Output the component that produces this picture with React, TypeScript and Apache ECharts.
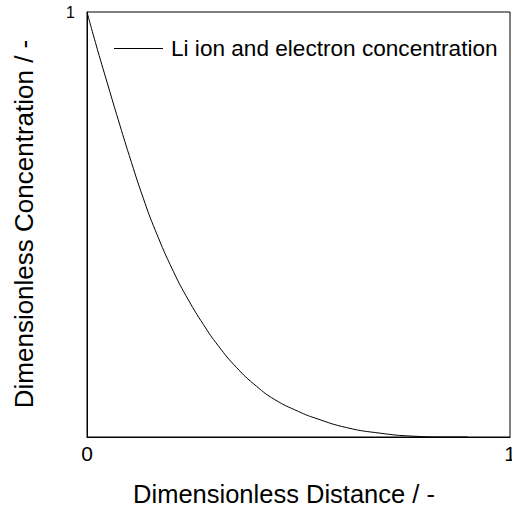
import React, { useEffect, useRef } from "react";
import * as echarts from "echarts";

const distance = [0, 0.02, 0.05, 0.074, 0.1, 0.133, 0.162, 0.204, 0.24, 0.275, 0.31, 0.354, 0.4, 0.444, 0.5, 0.541, 0.614, 0.693, 0.77, 0.85, 0.9];
const concentration = [1, 0.928, 0.826, 0.746, 0.662, 0.562, 0.485, 0.39, 0.322, 0.265, 0.215, 0.163, 0.12, 0.088, 0.06, 0.044, 0.022, 0.009, 0.002, 0, 0];
const seriesName = "Li ion and electron concentration";
const xTitle = "Dimensionless Distance / -";
const yTitle = "Dimensionless Concentration / -";

export default function App() {
  const ref = useRef<HTMLDivElement>(null);
  useEffect(() => {
    if (!ref.current) return;
    const chart = echarts.init(ref.current, null, { renderer: "svg" });
    const font = "'Liberation Sans', Arial, Helvetica, sans-serif";
    chart.setOption({
      animation: false,
      grid: {
        left: 87,
        top: 12,
        right: 2,
        bottom: 71,
        containLabel: false,
        outerBoundsMode: "none",
        show: true,
        borderColor: "#000",
        borderWidth: 1,
        backgroundColor: "transparent",
      },
      legend: {
        show: true,
        left: 114,
        top: 37,
        padding: 0,
        icon: "rect",
        itemWidth: 49,
        itemHeight: 1,
        itemGap: 0,
        itemStyle: { color: "#000", borderWidth: 0 },
        textStyle: { fontSize: 22.6, color: "#000", fontFamily: font, padding: [0, 0, 0, 3] },
        data: [seriesName],
      },
      xAxis: {
        type: "value",
        min: 0,
        max: 1,
        interval: 1,
        axisLine: { show: true, lineStyle: { color: "#000", width: 1 } },
        axisTick: { show: false },
        splitLine: { show: false },
        axisLabel: { color: "#000", fontSize: 21, fontFamily: font, margin: 6 },
      },
      yAxis: {
        type: "value",
        min: 0,
        max: 1,
        interval: 1,
        axisLine: { show: true, lineStyle: { color: "#000", width: 1 } },
        axisTick: { show: false },
        splitLine: { show: false },
        axisLabel: {
          color: "#000",
          fontSize: 16,
          fontFamily: font,
          margin: 12,
          formatter: (v: number) => (v === 1 ? "1" : ""),
        },
      },
      graphic: [
        {
          type: "text",
          x: 284,
          y: 494,
          style: {
            text: xTitle,
            fontSize: 25.5,
            fontFamily: font,
            fill: "#000",
            align: "center",
            verticalAlign: "middle",
          },
        },
        {
          type: "text",
          x: 24,
          y: 224,
          rotation: Math.PI / 2,
          style: {
            text: yTitle,
            fontSize: 26,
            fontFamily: font,
            fill: "#000",
            align: "center",
            verticalAlign: "middle",
          },
        },
      ],
      series: [
        {
          name: seriesName,
          type: "line",
          smooth: 0.5,
          symbol: "none",
          lineStyle: { color: "#000", width: 1 },
          itemStyle: { color: "#000" },
          data: distance.map((x, i) => [x, concentration[i]]),
        },
      ],
    });
    return () => chart.dispose();
  }, []);
  return <div ref={ref} style={{ width: 512, height: 508, position: "absolute", left: 0, top: 0 }} />;
}
